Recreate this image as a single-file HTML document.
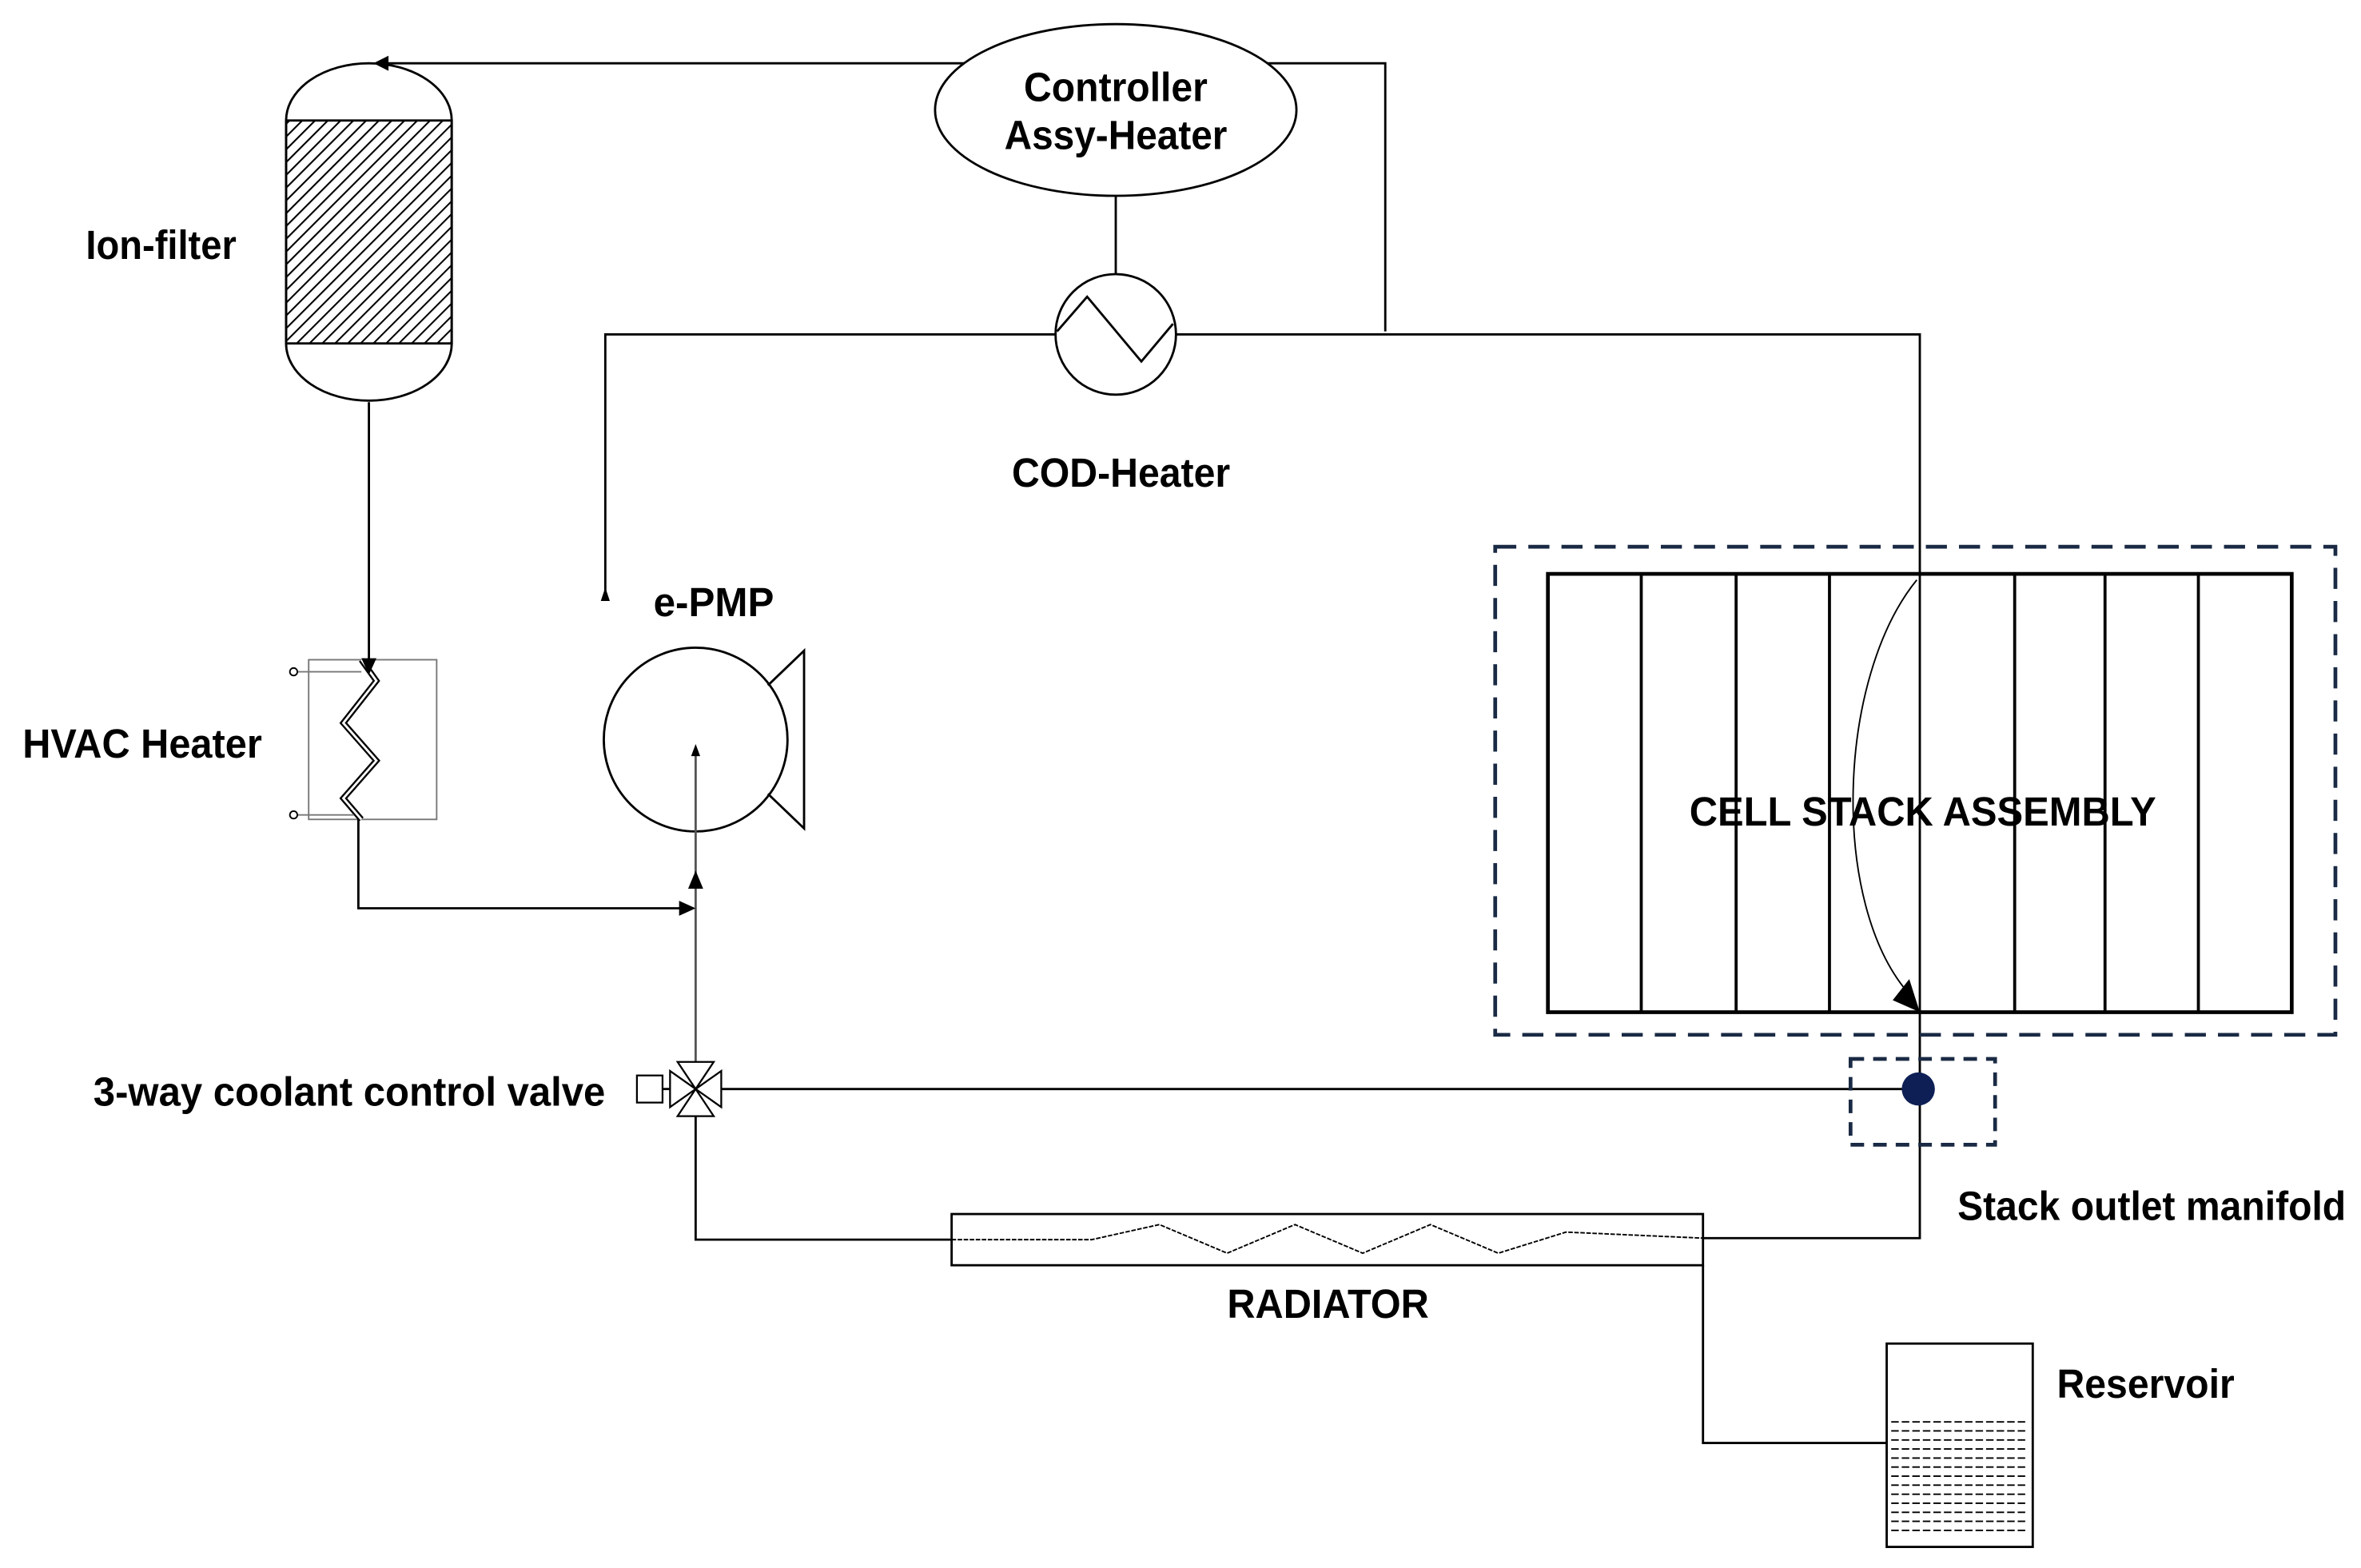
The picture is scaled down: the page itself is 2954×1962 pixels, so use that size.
<!DOCTYPE html>
<html><head><meta charset="utf-8"><style>html,body{margin:0;padding:0;background:#fff}svg{display:block}</style></head>
<body>
<svg width="2954" height="1962" viewBox="0 0 1568 1041" preserveAspectRatio="none" xmlns="http://www.w3.org/2000/svg" font-family="Liberation Sans, sans-serif">
<defs>
<pattern id="h" patternUnits="userSpaceOnUse" width="6" height="6" patternTransform="rotate(45)"><line x1="0" y1="0" x2="0" y2="6" stroke="#000" stroke-width="2.2"/></pattern>
</defs>
<g fill="none" stroke="#000" stroke-width="1.5">
<!-- ion filter -->
<path d="M190,80 A55,38 0 0 1 300,80 L300,228 A55,38 0 0 1 190,228 Z" fill="#fff"/>
<rect x="190" y="80" width="110" height="148" fill="url(#h)"/>
<!-- top line -->
<path d="M255,42 L920,42 L920,220"/>
<ellipse cx="741" cy="73" rx="120" ry="57" fill="#fff"/>
<line x1="741" y1="130" x2="741" y2="182"/>
<path d="M402,395 L402,222 L1275,222 L1275,822 L1131,822"/>
<circle cx="741" cy="222" r="40" fill="#fff"/>
<path d="M702,220 L722,197 L758,240 L779,215"/>
<!-- ion filter down -->
<line x1="245" y1="267" x2="245" y2="438"/>
<!-- HVAC -->
<rect x="205" y="438" width="85" height="106" stroke="#777" stroke-width="1"/>
<path d="M240,438 L250,452 L228,480 L250,505 L228,530 L240,544" stroke-width="4"/>
<path d="M240,438 L250,452 L228,480 L250,505 L228,530 L240,544" stroke="#fff" stroke-width="1.5"/>
<line x1="198" y1="446" x2="240" y2="446" stroke="#777" stroke-width="1"/>
<line x1="198" y1="541" x2="235" y2="541" stroke="#777" stroke-width="1"/>
<circle cx="195" cy="446" r="2.5" stroke-width="1"/>
<circle cx="195" cy="541" r="2.5" stroke-width="1"/>
<path d="M238,544 L238,603 L455,603"/>
<!-- pump -->
<circle cx="462" cy="491" r="61" fill="#fff"/>
<path d="M510,455 L534,432 L534,550 L510,527"/>
<line x1="462" y1="496" x2="462" y2="705" stroke="#555"/>
<!-- valve -->
<path d="M450,705 L474,705 L462,723 Z M450,741 L474,741 L462,723 Z M445,711 L445,735 L462,723 Z M479,711 L479,735 L462,723 Z" fill="#fff" stroke-width="1.2"/>
<rect x="423" y="714" width="17" height="18" stroke-width="1.2"/>
<line x1="440" y1="723" x2="445" y2="723"/>
<path d="M479,723 L1274,723"/>
<path d="M462,741 L462,823 L632,823"/>
<!-- radiator -->
<rect x="632" y="806" width="499" height="34"/>
<path d="M632,823 L725,823 L770,813 L815,832 L860,813 L905,832 L950,813 L995,832 L1040,818 L1131,822" stroke-width="1" stroke-dasharray="3,1"/>
<path d="M1131,840 L1131,958 L1253,958"/>
<!-- reservoir -->
<rect x="1253" y="892" width="97" height="135"/>
<g stroke-width="1" stroke-dasharray="5,2">
<line x1="1256" y1="944" x2="1347" y2="944"/><line x1="1256" y1="950" x2="1347" y2="950"/><line x1="1256" y1="956" x2="1347" y2="956"/><line x1="1256" y1="962" x2="1347" y2="962"/><line x1="1256" y1="968" x2="1347" y2="968"/><line x1="1256" y1="974" x2="1347" y2="974"/><line x1="1256" y1="980" x2="1347" y2="980"/><line x1="1256" y1="986" x2="1347" y2="986"/><line x1="1256" y1="992" x2="1347" y2="992"/><line x1="1256" y1="998" x2="1347" y2="998"/><line x1="1256" y1="1004" x2="1347" y2="1004"/><line x1="1256" y1="1010" x2="1347" y2="1010"/><line x1="1256" y1="1016" x2="1347" y2="1016"/>
</g>
<!-- stack -->
<rect x="993" y="363" width="558" height="324" stroke="#1a2a44" stroke-width="2.5" stroke-dasharray="14,8"/>
<rect x="1028" y="381" width="494" height="291" stroke-width="2.5"/>
<g stroke-width="2"><line x1="1090" y1="381" x2="1090" y2="672"/><line x1="1153" y1="381" x2="1153" y2="672"/><line x1="1215" y1="381" x2="1215" y2="672"/><line x1="1338" y1="381" x2="1338" y2="672"/><line x1="1398" y1="381" x2="1398" y2="672"/><line x1="1460" y1="381" x2="1460" y2="672"/></g>
<path d="M1273,385 C1220,450 1215,600 1268,660" stroke-width="1"/>
<rect x="1229" y="703" width="96" height="57" stroke="#1a2a44" stroke-width="2.5" stroke-dasharray="9,6"/>
</g>
<!-- arrowheads -->
<g fill="#000">
<path d="M248,42 L258,37 L258,47 Z"/>
<path d="M402,390 L399,399 L405,399 Z"/>
<path d="M245,448 L240,437 L250,437 Z"/>
<path d="M462,494 L459,502 L465,502 Z"/>
<path d="M462,578 L457,590 L467,590 Z"/>
<path d="M462,603 L451,598 L451,608 Z"/>
<path d="M1275,672 L1257,664 L1268,650 Z"/>
</g>
<circle cx="1274" cy="723" r="11" fill="#0d1f55"/>
<!-- text -->
<g font-weight="bold" fill="#000" font-size="27">
<text x="741" y="67" text-anchor="middle" textLength="122" lengthAdjust="spacingAndGlyphs">Controller</text>
<text x="741" y="99" text-anchor="middle" textLength="148" lengthAdjust="spacingAndGlyphs">Assy-Heater</text>
<text x="57" y="172" textLength="100" lengthAdjust="spacingAndGlyphs">Ion-filter</text>
<text x="672" y="323" textLength="145" lengthAdjust="spacingAndGlyphs">COD-Heater</text>
<text x="434" y="409" textLength="80" lengthAdjust="spacingAndGlyphs">e-PMP</text>
<text x="15" y="503" textLength="159" lengthAdjust="spacingAndGlyphs">HVAC Heater</text>
<text x="62" y="734" textLength="340" lengthAdjust="spacingAndGlyphs">3-way  coolant control valve</text>
<text x="1122" y="548" textLength="310" lengthAdjust="spacingAndGlyphs">CELL STACK ASSEMBLY</text>
<text x="1300" y="810" textLength="258" lengthAdjust="spacingAndGlyphs">Stack outlet manifold</text>
<text x="815" y="875" textLength="134" lengthAdjust="spacingAndGlyphs">RADIATOR</text>
<text x="1366" y="928" textLength="118" lengthAdjust="spacingAndGlyphs">Reservoir</text>
</g>
</svg>
</body></html>
